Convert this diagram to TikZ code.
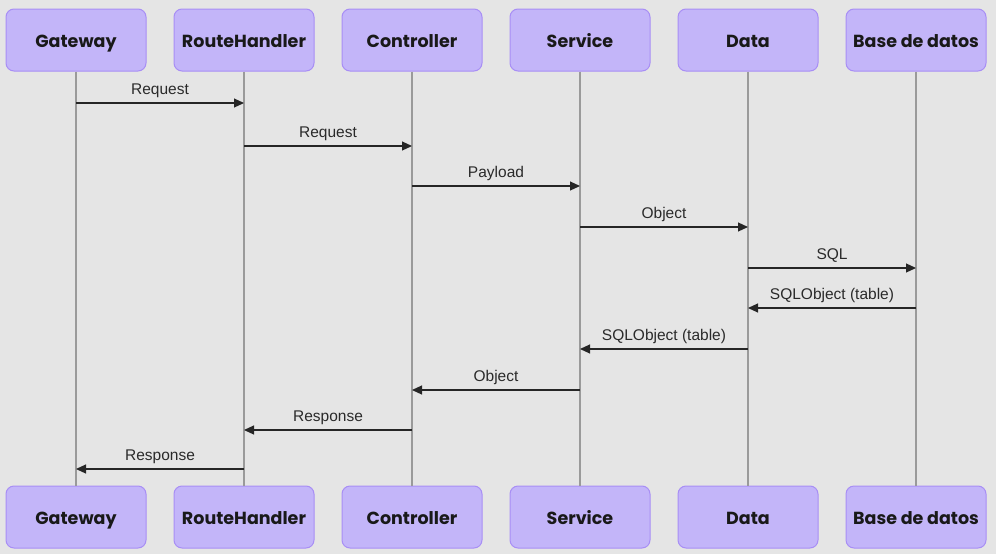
\documentclass[tikz,border=0pt]{standalone}
\usepackage{fontspec}
\setmainfont{Liberation Sans}
\newfontfamily\boxfont{Poppins}
\usetikzlibrary{arrows.meta}
\definecolor{bg}{HTML}{E5E5E5}
\definecolor{boxfill}{HTML}{C3B5F9}
\definecolor{boxline}{HTML}{A88EF5}
\definecolor{life}{HTML}{9A9A9A}
\definecolor{lbl}{HTML}{2A2A2A}
\tikzset{
  actor/.style={draw=boxline, line width=1pt, fill=boxfill, rounded corners=8pt,
    minimum width=140pt, minimum height=62pt, inner sep=0pt,
    text height=14pt, text depth=0pt,
    font=\boxfont\bfseries\fontsize{17.5}{19}\selectfont, text=black!90},
  lifeline/.style={draw=life, line width=1.8pt},
  msg/.style={draw=black!85, line width=1.1pt, -{Triangle[length=10pt,width=9pt]}},
  msglabel/.style={font=\fontsize{15.5}{17}\selectfont, text=lbl, above=1.5pt, midway}
}
\begin{document}
\begin{tikzpicture}[x=1pt,y=-1pt]
\fill[bg] (0,0) rectangle (996,554);
\useasboundingbox (0,0) rectangle (996,554);
\foreach \n/\t [count=\i from 0] in {gw/Gateway,rh/RouteHandler,ct/Controller,sv/Service,dt/Data,db/Base de datos}{
  \pgfmathsetmacro{\xx}{76+168*\i}
  \node[actor] (\n t) at (\xx,40) {\t};
  \node[actor] (\n b) at (\xx,517) {\t};
  \draw[lifeline] (\n t.south) -- (\n b.north);
}
\foreach \a/\b/\y/\t/\nm in {gw/rh/103/Request/m1, rh/ct/146/Request/m2, ct/sv/186/Payload/m3, sv/dt/227/Object/m4, dt/db/268/SQL/m5, db/dt/308/SQLObject (table)/m6, dt/sv/349/SQLObject (table)/m7, sv/ct/390/Object/m8, ct/rh/430/Response/m9, rh/gw/469/Response/m10}{
  \coordinate (\nm s) at (\a t.south |- 0,\y);
  \coordinate (\nm e) at (\b t.south |- 0,\y);
  \draw[msg] (\nm s) -- (\nm e) node[msglabel] {\t};
}
\end{tikzpicture}
\end{document}
